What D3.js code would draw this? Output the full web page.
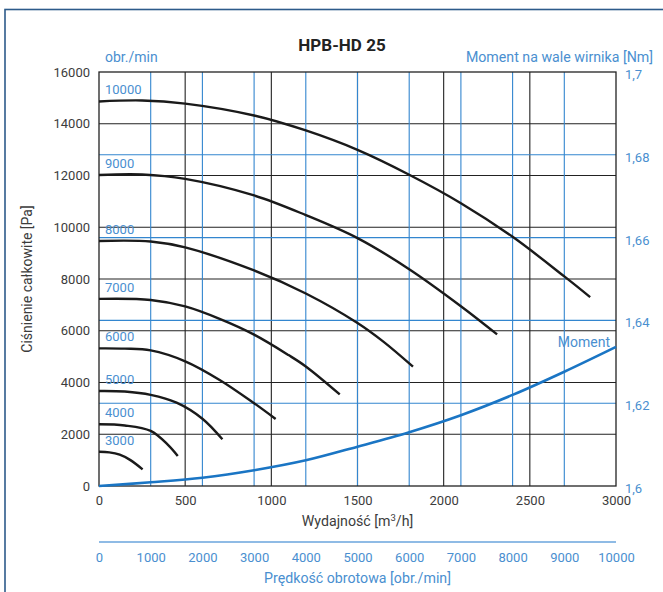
<!DOCTYPE html>
<html><head><meta charset="utf-8">
<script src="https://cdn.jsdelivr.net/npm/d3@7"></script>
<style>
html,body{margin:0;padding:0;background:#fff;}
svg text{font-family:Roboto,"Noto Sans",sans-serif;}
</style></head>
<body>
<svg id="chart" width="663" height="592"></svg>
<script>
// ---- data ----
const flowTicks = [0, 500, 1000, 1500, 2000, 2500, 3000];
const pressureTicks = [0, 2000, 4000, 6000, 8000, 10000, 12000, 14000, 16000];
const momentTicks = [1.6, 1.62, 1.64, 1.66, 1.68, 1.7];
const momentTickLabels = ["1,6", "1,62", "1,64", "1,66", "1,68", "1,7"];
const rpmTicks = [0, 1000, 2000, 3000, 4000, 5000, 6000, 7000, 8000, 9000, 10000];

const curveNames = ["10000", "9000", "8000", "7000", "6000", "5000", "4000", "3000"];
const curve10000 = [[0,14860],[250,14900],[500,14780],[900,14320],[1200,13740],[1500,12990],[1800,12030],[2100,10930],[2400,9630],[2700,8100],[2850,7300]];
const curve9000 = [[0,12020],[250,12040],[500,11870],[900,11230],[1200,10470],[1500,9580],[1800,8380],[2100,6950],[2310,5860]];
const curve8000 = [[0,9470],[300,9450],[500,9220],[900,8330],[1200,7440],[1500,6300],[1650,5580],[1822,4610]];
const curve7000 = [[0,7230],[300,7190],[500,6940],[700,6460],[900,5850],[1100,5060],[1200,4620],[1397,3540]];
const curve6000 = [[0,5320],[150,5310],[300,5240],[500,4820],[700,4100],[900,3200],[1025,2590]];
const curve5000 = [[0,3670],[150,3650],[300,3520],[450,3220],[600,2600],[716,1805]];
const curve4000 = [[0,2384],[150,2340],[300,2130],[400,1590],[457,1160]];
const curve3000 = [[0,1326],[60,1300],[120,1210],[180,1010],[253,645]];
const curves = [curve10000, curve9000, curve8000, curve7000, curve6000, curve5000, curve4000, curve3000];

const momentRpm = [0, 1000, 2000, 3000, 4000, 5000, 6000, 7000, 8000, 9000, 10000];
const momentNm = [1.6, 1.6009, 1.6020, 1.6038, 1.6062, 1.6095, 1.6130, 1.6171, 1.6220, 1.6276, 1.6336];

// ---- layout ----
const L = 99, R = 616, T = 72, B = 486;
const blueText = "#4a8fd0", blueGrid = "#3386cf", darkText = "#3c3c3c";

const svg = d3.select("#chart");
const x = d3.scaleLinear().domain([0, 3000]).range([L, R]);
const xr = d3.scaleLinear().domain([0, 10000]).range([L, R]);
const y = d3.scaleLinear().domain([0, 16000]).range([B, T]);
const ym = d3.scaleLinear().domain([1.6, 1.7]).range([B, T]);

// outer frame
svg.append("rect").attr("x", 5).attr("y", 9.5).attr("width", 800).attr("height", 800)
  .attr("fill", "none").attr("stroke", "#2d5b8a").attr("stroke-width", 1.6);

// grid: black
const g = svg.append("g");
g.selectAll("line.hp").data(pressureTicks.slice(1, -1)).join("line")
  .attr("x1", L).attr("x2", R).attr("y1", d => y(d)).attr("y2", d => y(d))
  .attr("stroke", "#222").attr("stroke-width", 1.1);
g.selectAll("line.vq").data(flowTicks.slice(1, -1)).join("line")
  .attr("y1", T).attr("y2", B).attr("x1", d => x(d)).attr("x2", d => x(d))
  .attr("stroke", "#222").attr("stroke-width", 1.1);
// grid: blue
g.selectAll("line.hm").data(momentTicks.slice(1, -1)).join("line")
  .attr("x1", L).attr("x2", R).attr("y1", d => ym(d)).attr("y2", d => ym(d))
  .attr("stroke", blueGrid).attr("stroke-width", 1.1);
g.selectAll("line.vr").data(rpmTicks.slice(1, -1)).join("line")
  .attr("y1", T).attr("y2", B).attr("x1", d => xr(d)).attr("x2", d => xr(d))
  .attr("stroke", blueGrid).attr("stroke-width", 1.1);

// plot frame
svg.append("rect").attr("x", L).attr("y", T).attr("width", R - L).attr("height", B - T)
  .attr("fill", "none").attr("stroke", "#222").attr("stroke-width", 1.3);

// axes (labels only)
const axL = svg.append("g").attr("transform", `translate(${L},0)`)
  .call(d3.axisLeft(y).tickValues(pressureTicks).tickSize(0).tickPadding(9).tickFormat(d3.format("d")));
const axR = svg.append("g").attr("transform", `translate(${R},0)`)
  .call(d3.axisRight(ym).tickValues(momentTicks).tickSize(0).tickPadding(9)
    .tickFormat((d, i) => momentTickLabels[i]));
const axB = svg.append("g").attr("transform", `translate(0,${B})`)
  .call(d3.axisBottom(x).tickValues(flowTicks).tickSize(0).tickPadding(10).tickFormat(d3.format("d")));
const axRpm = svg.append("g").attr("transform", `translate(0,542)`)
  .call(d3.axisBottom(xr).tickValues(rpmTicks).tickSize(0).tickPadding(11).tickFormat(d3.format("d")));
[axL, axR, axB, axRpm].forEach(a => { a.select(".domain").remove(); a.selectAll("text").attr("font-size", 13); });
axL.selectAll("text").attr("fill", darkText);
axB.selectAll("text").attr("fill", darkText);
axR.selectAll("text").attr("fill", blueText).attr("dy", "0.5em");
axRpm.selectAll("text").attr("fill", blueText);
// rpm axis line
svg.append("line").attr("x1", L).attr("x2", R).attr("y1", 542).attr("y2", 542)
  .attr("stroke", "#6aa5dc").attr("stroke-width", 1.6);

// curves
const line = d3.line().x(d => x(d[0])).y(d => y(d[1])).curve(d3.curveCatmullRom.alpha(0.5));
svg.append("g").selectAll("path").data(curves).join("path")
  .attr("d", line).attr("fill", "none").attr("stroke", "#1a1a1a").attr("stroke-width", 2.4);
svg.append("g").selectAll("text").data(curves).join("text")
  .attr("x", L + 6).attr("y", d => y(d[0][1]) - 7)
  .attr("fill", blueText).attr("font-size", 13).text((d, i) => curveNames[i]);

const mline = d3.line().x((d, i) => xr(momentRpm[i])).y(d => ym(d)).curve(d3.curveCatmullRom.alpha(0.5));
svg.append("path").datum(momentNm).attr("d", mline).attr("fill", "none")
  .attr("stroke", "#1a75c4").attr("stroke-width", 2.6);
svg.append("text").attr("x", R - 6).attr("y", ym(momentNm[momentNm.length - 1]))
  .attr("text-anchor", "end").attr("fill", blueText).attr("font-size", 14).text("Moment");

// titles
svg.append("text").attr("x", 342).attr("y", 51).attr("text-anchor", "middle")
  .attr("font-size", 17).attr("font-weight", "bold").attr("fill", "#222").text("HPB-HD 25");
svg.append("text").attr("x", 105).attr("y", 62).attr("fill", blueText).attr("font-size", 14).text("obr./min");
svg.append("text").attr("x", 653).attr("y", 62).attr("text-anchor", "end").attr("fill", blueText)
  .attr("font-size", 14.2).text("Moment na wale wirnika [Nm]");
svg.append("text").attr("transform", `translate(32,${(T + B) / 2}) rotate(-90)`)
  .attr("text-anchor", "middle").attr("fill", darkText).attr("font-size", 14).text("Ciśnienie całkowite [Pa]");
const xt = svg.append("text").attr("x", (L + R) / 2).attr("y", 526).attr("text-anchor", "middle")
  .attr("fill", darkText).attr("font-size", 14.2);
xt.append("tspan").text("Wydajność [m");
xt.append("tspan").attr("font-size", 9.5).attr("dy", -5).text("3");
xt.append("tspan").attr("dy", 5).text("/h]");
svg.append("text").attr("x", (L + R) / 2).attr("y", 583).attr("text-anchor", "middle")
  .attr("fill", blueText).attr("font-size", 14.2).text("Prędkość obrotowa [obr./min]");
</script>
</body></html>
